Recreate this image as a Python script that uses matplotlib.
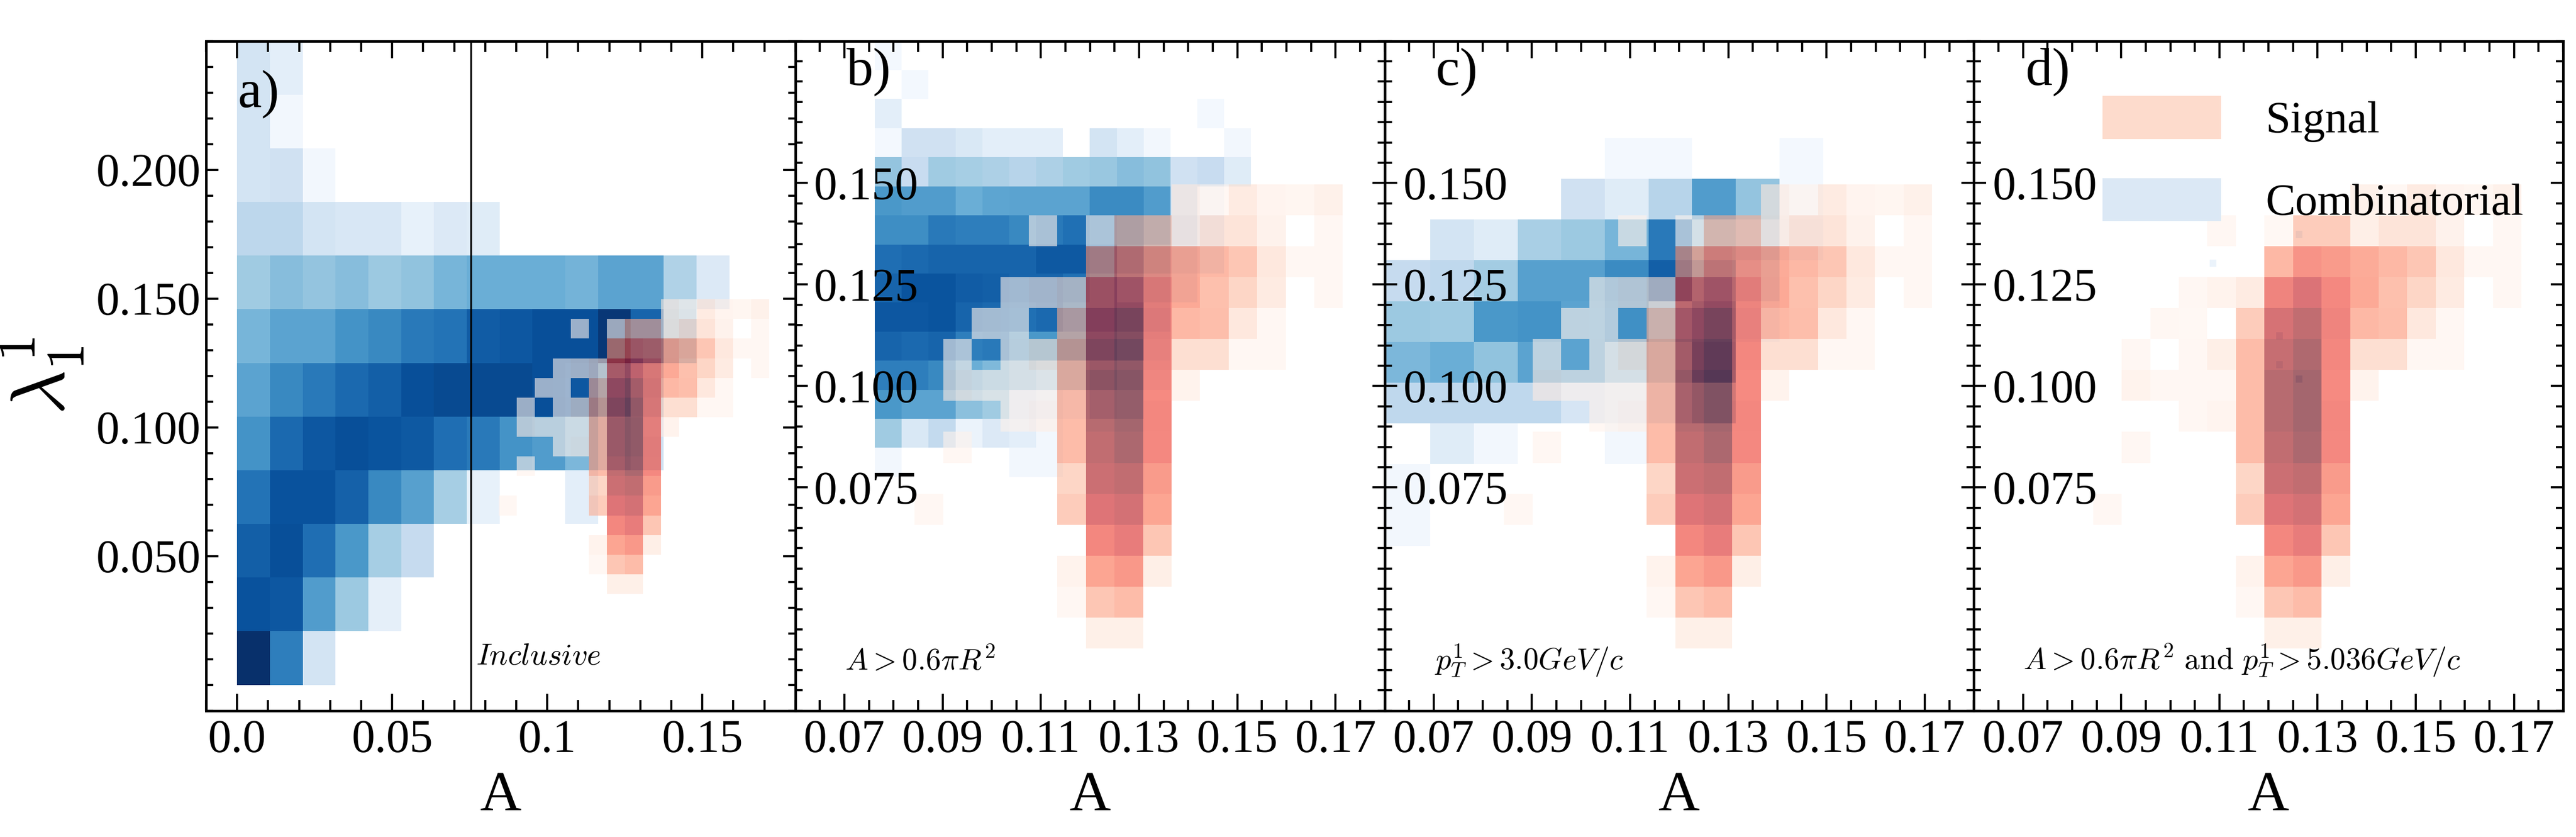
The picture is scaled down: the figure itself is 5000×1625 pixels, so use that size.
import numpy as np
import matplotlib
matplotlib.use("Agg")
import matplotlib.pyplot as plt
from matplotlib.patches import Patch
from matplotlib.ticker import MultipleLocator

plt.rcParams["font.family"] = ["Liberation Serif", "DejaVu Serif"]
plt.rcParams["mathtext.fontset"] = "cm"

# ---- signal (red) histogram, same binning in every panel, rows top -> bottom
sig_x_edges = np.linspace(0.0843, 0.1715, 16)
sig_y_edges = np.linspace(0.0353, 0.1497, 16)
signal = [
    [0, 0, 0, 0, 0,  0,  0,   0,  0,  8,  2, 13,  5, 3, 8],
    [0, 0, 0, 0, 2,  0,  1,  30, 30, 10, 17, 17,  7, 0, 2],
    [0, 0, 0, 0, 0,  0, 40,  58, 55, 47, 40, 33, 15, 2, 2],
    [0, 0, 0, 2, 6, 13, 66,  77, 63, 48, 36, 25, 13, 0, 2],
    [0, 0, 2, 1, 0, 30, 80,  90, 66, 40, 37, 15,  2, 0, 0],
    [0, 2, 0, 2, 10, 38, 88, 96, 64, 20, 20,  2,  2, 0, 0],
    [0, 6, 2, 2, 2, 38, 93, 100, 62,  6,  0,  0,  0, 0, 0],
    [0, 0, 0, 2, 5, 38, 93, 100, 64,  0,  0,  0,  0, 0, 0],
    [0, 2, 0, 0, 0, 38, 90,  97, 63,  0,  0,  0,  0, 0, 0],
    [0, 0, 0, 0, 0, 25, 86,  90, 55,  0,  0,  0,  0, 0, 0],
    [2, 0, 0, 0, 0, 30, 76,  82, 50,  0,  0,  0,  0, 0, 0],
    [0, 0, 0, 0, 0,  0, 64,  70, 33,  0,  0,  0,  0, 0, 0],
    [0, 0, 0, 0, 0,  6, 50,  56, 10,  0,  0,  0,  0, 0, 0],
    [0, 0, 0, 0, 0,  2, 33,  38,  0,  0,  0,  0,  0, 0, 0],
    [0, 0, 0, 0, 0,  0,  9,   9,  0,  0,  0,  0,  0, 0, 0],
]

# ---- combinatorial (blue), panel a: inclusive
a_x_edges = np.linspace(0.0, 0.1587, 16)
a_y_edges = np.linspace(0.0, 0.25, 13)
comb_a = [
    [18, 10,  0,  0,  0,  0,  0,  0,  0,  0,  0,  0,  0,  0,  0],
    [18,  3,  0,  0,  0,  0,  0,  0,  0,  0,  0,  0,  0,  0,  0],
    [18, 20,  3,  0,  0,  0,  0,  0,  0,  0,  0,  0,  0,  0,  0],
    [28, 28, 18, 16, 16,  8, 14, 12,  0,  0,  0,  0,  0,  0,  0],
    [37, 43, 40, 43, 38, 41, 47, 50, 50, 50, 48, 55, 55, 32, 14],
    [47, 55, 55, 62, 66, 72, 74, 83, 85, 88, 88, 97, 80, 35,  0],
    [55, 66, 72, 78, 82, 88, 90, 90, 90, 88, 85, 60, 30,  0,  0],
    [62, 78, 85, 88, 86, 84, 76, 72, 62, 58, 46, 30, 20,  0,  0],
    [74, 87, 87, 81, 66, 56, 35,  8,  0,  0, 10,  0,  0,  0,  0],
    [82, 88, 76, 60, 35, 25,  0,  0,  0,  0,  0,  0,  0,  0,  0],
    [87, 85, 58, 38,  9,  0,  0,  0,  0,  0,  0,  0,  0,  0,  0],
    [100, 70, 18, 0,  0,  0,  0,  0,  0,  0,  0,  0,  0,  0,  0],
]

# panel b: A > 0.6 pi R^2
b_x_edges = np.linspace(0.0762, 0.1528, 15)
b_y_edges = np.linspace(0.0776, 0.1850, 16)
comb_b = [
    [2,  0,  0,  0,  0,  0,  0,  0,  0,  0,  0,  0,  0,  0],
    [0,  2,  0,  0,  0,  0,  0,  0,  0,  0,  0,  0,  0,  0],
    [10, 0,  0,  0,  0,  0,  0,  0,  0,  0,  0,  0,  2,  0],
    [2, 20, 20, 15, 10, 10, 10,  0, 18, 10,  3,  0,  0,  3],
    [40, 24, 37, 35, 33, 30, 33, 37, 39, 43, 41, 20, 24, 12],
    [60, 58, 58, 50, 54, 55, 55, 55, 65, 65, 58, 20,  2,  0],
    [64, 64, 72, 70, 70, 66, 72, 75, 70, 65, 50, 25, 10,  0],
    [76, 78, 80, 80, 80, 80, 84, 84, 80, 60, 40, 20, 10,  0],
    [80, 86, 86, 83, 82, 80, 80, 75, 70, 50, 30, 10,  0,  0],
    [85, 85, 86, 80, 78, 75, 78, 70, 70, 60, 20,  0,  0,  0],
    [80, 78, 80, 70, 72, 60, 60, 60, 60, 50, 10,  0,  0,  0],
    [70, 70, 66, 50, 45, 40, 35, 35, 40, 30,  5,  0,  0,  0],
    [60, 55, 55, 42, 37, 15, 10,  5, 20, 15,  0,  0,  0,  0],
    [37, 15, 26,  6, 14, 10,  3,  0,  0,  0,  0,  0,  0,  0],
    [3,  0,  0,  0,  0,  3,  3,  0,  0,  0,  0,  0,  0,  0],
]

# panel c: pT > 3.0 GeV/c
c_x_edges = np.linspace(0.0604, 0.1493, 11)
c_y_edges = np.linspace(0.0606, 0.1611, 11)
comb_c = [
    [0,  0,  0,  0,  0,  2,  2,  0,  0,  2],
    [0,  0,  0,  0, 20, 12, 30, 58, 40,  2],
    [0, 18, 12, 34, 38, 47, 72, 40, 30,  5],
    [25, 27, 36, 56, 56, 65, 82, 50, 20,  0],
    [38, 37, 60, 62, 55, 63, 45, 60,  5,  0],
    [46, 50, 41, 55, 55, 40, 35, 65,  0,  0],
    [27, 27, 27, 27, 17, 12, 15, 35,  0,  0],
    [0, 12,  3,  0,  0,  3,  0,  0,  0,  0],
    [3,  0,  0,  0,  0,  0,  0,  0,  0,  0],
    [3,  0,  0,  0,  0,  0,  0,  0,  0,  0],
]

# panel d: both cuts, only a few combinatorial entries left
d_x_edges = np.linspace(0.1080, 0.1310, 18)
d_y_edges = np.linspace(0.0990, 0.1400, 24)
comb_d_x = [0.1092, 0.1265, 0.1222, 0.1222, 0.1265]
comb_d_y = [0.1304, 0.1376, 0.1120, 0.1060, 0.1018]
comb_d_w = [6, 15, 15, 12, 18]

cut_area = 0.6 * np.pi * 0.2 ** 2

panel_tags = ["a)", "b)", "c)", "d)"]
panel_notes = [r"$Inclusive$", r"$A > 0.6\pi R^2$", r"$p_T^1 > 3.0GeV/c$",
               r"$A > 0.6\pi R^2\ \mathrm{and}\ p_T^1 > 5.036GeV/c$"]

a_xticks = [0.0, 0.05, 0.1, 0.15]
a_xticklabels = ["0.0", "0.05", "0.1", "0.15"]
a_yticks = [0.05, 0.10, 0.15, 0.20]
a_yticklabels = ["0.050", "0.100", "0.150", "0.200"]
bcd_xticks = [0.07, 0.09, 0.11, 0.13, 0.15, 0.17]
bcd_xticklabels = ["0.07", "0.09", "0.11", "0.13", "0.15", "0.17"]
bcd_yticks = [0.075, 0.100, 0.125, 0.150]
bcd_yticklabels = ["0.075", "0.100", "0.125", "0.150"]


def draw_grid(ax, xe, ye, grid, cmap, alpha=1.0):
    z = np.ma.masked_equal(np.flipud(np.array(grid, dtype=float)), 0)
    ax.pcolormesh(xe, ye, z, cmap=cmap, vmin=0, vmax=100,
                  alpha=alpha, shading="flat", edgecolors="none")


fig, axes = plt.subplots(1, 4, figsize=(20, 6.5), dpi=250)
fig.subplots_adjust(left=0.08, right=0.995, top=0.951, bottom=0.151, wspace=0)

blues = [(a_x_edges, a_y_edges, comb_a), (b_x_edges, b_y_edges, comb_b),
         (c_x_edges, c_y_edges, comb_c)]

for i, ax in enumerate(axes):
    if i < 3:
        xe, ye, g = blues[i]
        draw_grid(ax, xe, ye, g, "Blues")
    else:
        ax.hist2d(comb_d_x, comb_d_y, bins=[d_x_edges, d_y_edges], weights=comb_d_w,
                  cmap="Blues", vmin=0, vmax=100, cmin=1)
    draw_grid(ax, sig_x_edges, sig_y_edges, signal, "Reds", alpha=0.6)

    for s in ax.spines.values():
        s.set_linewidth(1.4)
    ax.tick_params(which="both", direction="in", top=True, right=True, width=1.2,
                   labelsize=26)
    ax.tick_params(axis="x", which="major", length=9.5, pad=5)
    ax.tick_params(axis="x", which="minor", length=6)
    ax.tick_params(axis="y", which="major", length=6.8)
    ax.tick_params(axis="y", which="minor", length=4)
    ax.set_xlabel("A", fontsize=32, labelpad=5)

    if i == 0:
        ax.set_xlim(-0.01, 0.18)
        ax.set_ylim(-0.01, 0.25)
        ax.set_xticks(a_xticks, a_xticklabels)
        ax.set_yticks(a_yticks, a_yticklabels)
        ax.xaxis.set_minor_locator(MultipleLocator(0.01))
        ax.yaxis.set_minor_locator(MultipleLocator(0.01))
        ax.tick_params(axis="y", pad=3)
        ax.axvline(cut_area, color="black", linewidth=1.0)
        ax.text(0.077, 0.008, panel_notes[0], fontsize=17, va="baseline")
        ax.text(0.054, 0.957, panel_tags[0], transform=ax.transAxes,
                fontsize=30, va="top", ha="left")
        ax.set_ylabel(r"$\lambda_1^1$", fontsize=43, labelpad=6)
    else:
        ax.set_xlim(0.06, 0.18)
        ax.set_ylim(0.02, 0.185)
        ax.set_xticks(bcd_xticks, bcd_xticklabels)
        ax.set_yticks(bcd_yticks, bcd_yticklabels, ha="left")
        ax.xaxis.set_minor_locator(MultipleLocator(0.005))
        ax.yaxis.set_minor_locator(MultipleLocator(0.005))
        ax.tick_params(axis="y", pad=-10.4)
        ax.text(0.084, 0.061, panel_notes[i], transform=ax.transAxes,
                fontsize=17, va="baseline")
        ax.text(0.087, 0.99, panel_tags[i], transform=ax.transAxes,
                fontsize=30, va="top", ha="left")

handles = [Patch(facecolor="#fddbcc", edgecolor="none", label="Signal"),
           Patch(facecolor="#dbe8f5", edgecolor="none", label="Combinatorial")]
axes[3].legend(handles=handles, loc="upper left", bbox_to_anchor=(0.218, 0.918),
               frameon=False, fontsize=25, handlelength=2.65, handleheight=1.1,
               handletextpad=1.0, labelspacing=0.8, borderpad=0, borderaxespad=0)

fig.savefig("out.png", dpi=250)
